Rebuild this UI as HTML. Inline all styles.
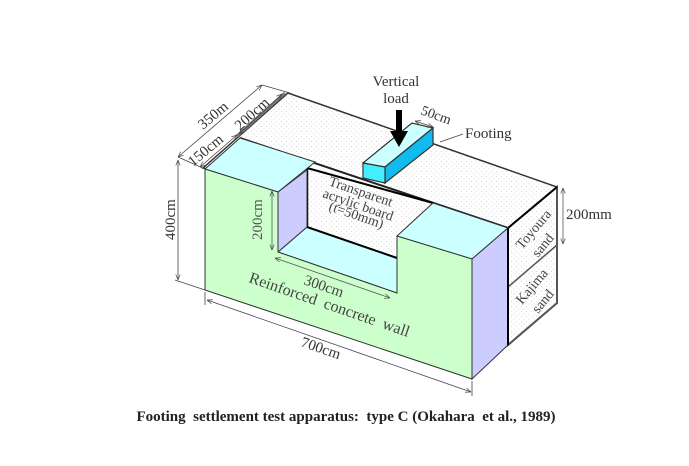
<!DOCTYPE html>
<html><head><meta charset="utf-8"><style>
html,body{margin:0;padding:0;background:#fff;}
svg{display:block;}
text{font-family:"Liberation Serif",serif;}
</style></head><body>
<svg width="689" height="466" viewBox="0 0 689 466" xmlns="http://www.w3.org/2000/svg">
<defs>
<pattern id="dots" width="5" height="5" patternUnits="userSpaceOnUse">
<rect width="5" height="5" fill="#fff"/>
<circle cx="1.5" cy="1.5" r="0.5" fill="#ccc"/>
<circle cx="4" cy="4" r="0.5" fill="#ccc"/>
</pattern>
<marker id="ar" viewBox="0 0 10 10" refX="10" refY="5" markerWidth="7" markerHeight="7" orient="auto-start-reverse"><path d="M0,1 L10,5 L0,9" fill="none" stroke="#444" stroke-width="1.2"/></marker>
</defs>

<polygon points="203,168 288,93 557,187 508,228" fill="url(#dots)" stroke="#333" stroke-width="1.5"/>
<line x1="240" y1="138" x2="508" y2="228" stroke="#222" stroke-width="2"/>
<line x1="237" y1="136" x2="285" y2="93" stroke="#777" stroke-width="3"/>

<polygon points="508,228 557,187 557,303 508,345" fill="url(#dots)" stroke="#555" stroke-width="2"/>
<line x1="508" y1="287" x2="557" y2="245" stroke="#555" stroke-width="1.5"/>
<line x1="508" y1="228" x2="557" y2="187" stroke="#000" stroke-width="2"/>

<polygon points="307,168 433,203 397,236 397,293 307,227" fill="url(#dots)"/>
<polygon points="278,252 307,227 397,258 397,293" fill="#ccffff" stroke="#333" stroke-width="1"/>
<line x1="307" y1="168" x2="433" y2="203" stroke="#000" stroke-width="2"/>
<line x1="307" y1="227" x2="397" y2="258" stroke="#000" stroke-width="2"/>
<line x1="307" y1="168" x2="307" y2="227" stroke="#000" stroke-width="2.5"/>

<polygon points="278,192 307,170 307,227 278,252" fill="#ccccff" stroke="#333" stroke-width="1"/>
<polygon points="205,169 240,138 315,162 278,192" fill="#ccffff" stroke="#333" stroke-width="1"/>
<polygon points="397,236 433,203 508,228 472,259" fill="#ccffff" stroke="#333" stroke-width="1"/>
<polygon points="472,259 508,228 508,345 472,379" fill="#ccccff" stroke="#333" stroke-width="1"/>
<line x1="508" y1="228" x2="508" y2="345" stroke="#000" stroke-width="2"/>
<polygon points="205,169 278,192 278,252 397,293 397,236 472,259 472,379 205,290" fill="#ccffcc" stroke="#333" stroke-width="1"/>

<polygon points="363,163 412,123 433,128 385,167" fill="#ccffff" stroke="#333" stroke-width="1.2"/>
<polygon points="385,167 433,128 433,145 385,183" fill="#11bbee" stroke="#333" stroke-width="1.2"/>
<polygon points="363,163 385,167 385,183 363,178" fill="#44eeff" stroke="#333" stroke-width="1.2"/>
<rect x="396" y="110" width="6" height="22" fill="#000"/>
<polygon points="390,131 408,131 399,147" fill="#000"/>
<text x="396" y="86" font-size="15" text-anchor="middle" fill="#333">Vertical</text>
<text x="396" y="103" font-size="15" text-anchor="middle" fill="#333">load</text>
<line x1="415" y1="121" x2="433" y2="127" stroke="#444" stroke-width="0.8" marker-start="url(#ar)" marker-end="url(#ar)"/>
<text x="420" y="114" font-size="14" fill="#333" transform="rotate(20 420 114)">50cm</text>
<line x1="440" y1="142" x2="463" y2="134" stroke="#444" stroke-width="0.8"/>
<text x="465" y="138" font-size="15" fill="#333">Footing</text>

<line x1="178" y1="157" x2="262" y2="85" stroke="#444" stroke-width="0.8" marker-start="url(#ar)" marker-end="url(#ar)"/>
<line x1="262" y1="85" x2="290" y2="93" stroke="#444" stroke-width="0.8"/>
<line x1="178" y1="157" x2="205" y2="169" stroke="#444" stroke-width="0.8"/>
<line x1="200" y1="167" x2="237" y2="135" stroke="#444" stroke-width="0.8" marker-start="url(#ar)" marker-end="url(#ar)"/>
<line x1="239" y1="134" x2="282" y2="94" stroke="#444" stroke-width="0.8" marker-start="url(#ar)" marker-end="url(#ar)"/>
<text x="203" y="130" font-size="15" fill="#333" transform="rotate(-40 203 130)">350m</text>
<text x="193" y="167" font-size="15" fill="#333" transform="rotate(-40 193 167)">150cm</text>
<text x="240" y="131" font-size="15" fill="#333" transform="rotate(-42 240 131)">200cm</text>

<line x1="178" y1="160" x2="178" y2="280" stroke="#444" stroke-width="0.8" marker-start="url(#ar)" marker-end="url(#ar)"/>
<line x1="175" y1="280" x2="205" y2="290" stroke="#444" stroke-width="0.8"/>
<text x="175" y="240" font-size="15" fill="#333" transform="rotate(-90 175 240)">400cm</text>

<line x1="205" y1="292" x2="205" y2="305" stroke="#444" stroke-width="0.8"/>
<line x1="472" y1="381" x2="472" y2="396" stroke="#444" stroke-width="0.8"/>
<line x1="207" y1="300" x2="471" y2="392" stroke="#444" stroke-width="0.8" marker-start="url(#ar)" marker-end="url(#ar)"/>
<text x="300" y="346" font-size="15" fill="#333" transform="rotate(19 300 346)">700cm</text>

<line x1="272" y1="191" x2="272" y2="250" stroke="#555" stroke-width="0.8" marker-start="url(#ar)" marker-end="url(#ar)"/>
<text x="262" y="240" font-size="15" fill="#555" transform="rotate(-90 262 240)">200cm</text>
<line x1="275" y1="258" x2="390" y2="298" stroke="#555" stroke-width="0.8" marker-start="url(#ar)" marker-end="url(#ar)"/>
<text x="303" y="284" font-size="15" fill="#444" transform="rotate(19 303 284)">300cm</text>

<text x="248" y="282" font-size="16" fill="#444" transform="rotate(19 248 282)" word-spacing="4">Reinforced  concrete  wall</text>

<g font-size="14" fill="#444">
<text x="328" y="185" transform="rotate(19 328 185)">Transparent</text>
<text x="322" y="197" transform="rotate(19 322 197)">acrylic board</text>
<text x="328" y="210" transform="rotate(19 328 210)">(t=50mm)</text>
</g>
<g font-size="14" fill="#444">
<text x="522" y="250" transform="rotate(-50 522 250)">Toyoura</text>
<text x="538" y="258" transform="rotate(-50 538 258)">sand</text>
<text x="522" y="305" transform="rotate(-50 522 305)">Kajima</text>
<text x="538" y="314" transform="rotate(-50 538 314)">sand</text>
</g>
<line x1="563" y1="188" x2="563" y2="244" stroke="#555" stroke-width="0.8" marker-start="url(#ar)" marker-end="url(#ar)"/>
<text x="566" y="219" font-size="15" fill="#333">200mm</text>

<text x="346" y="421" font-size="15" font-weight="bold" text-anchor="middle" fill="#222" xml:space="preserve">Footing  settlement test apparatus:  type C (Okahara  et al., 1989)</text>
</svg>
</body></html>
